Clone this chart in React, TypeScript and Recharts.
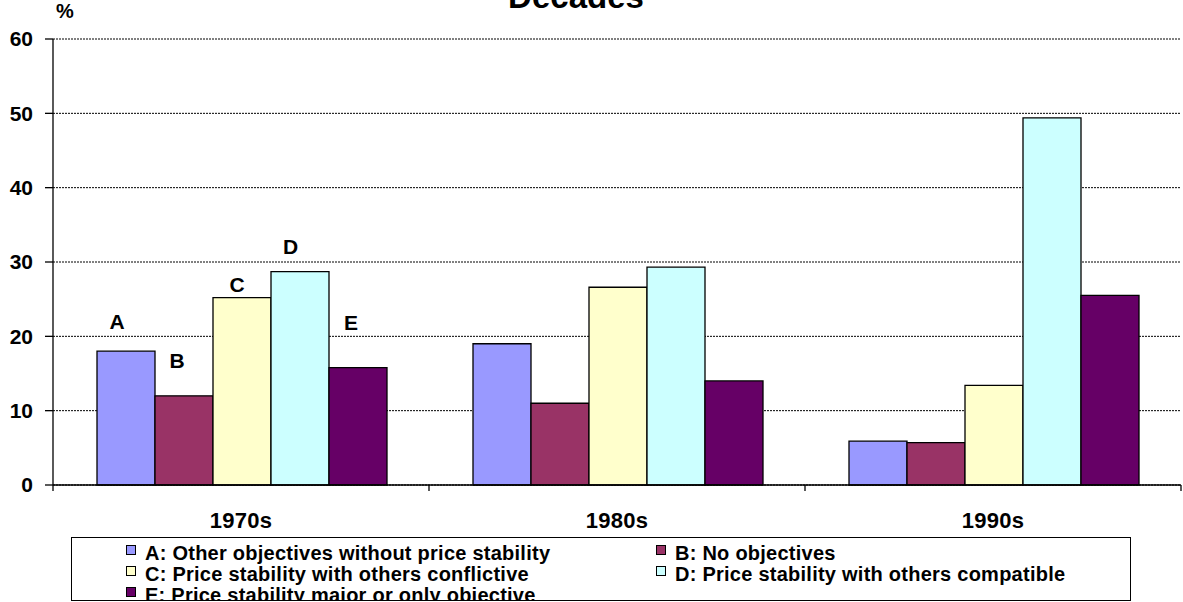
import React from 'react';
import { BarChart, Bar, XAxis, YAxis, CartesianGrid, Legend } from 'recharts';

const decades = ['1970s', '1980s', '1990s'];
const seriesA = [18.0, 19.0, 5.9];
const seriesB = [12.0, 11.0, 5.7];
const seriesC = [25.2, 26.6, 13.4];
const seriesD = [28.7, 29.3, 49.4];
const seriesE = [15.8, 14.0, 25.5];
const yTicks = [0, 10, 20, 30, 40, 50, 60];

const letters = ['A', 'B', 'C', 'D', 'E'];
const legendNames = [
  'A: Other objectives without price stability',
  'B: No objectives',
  'C: Price stability with others conflictive',
  'D: Price stability with others compatible',
  'E: Price stability major or only objective',
];

const chartData = decades.map((d, i) => ({
  decade: d,
  A: seriesA[i],
  B: seriesB[i],
  C: seriesC[i],
  D: seriesD[i],
  E: seriesE[i],
}));

const FONT = '"Liberation Sans", Arial, sans-serif';
const colors = ['#9999FF', '#993366', '#FFFFCC', '#CCFFFF', '#660066'];
// letter label nudges for the first cluster (dx, baseline above bar top)
const letterOffsets: [number, number][] = [
  [-9, 22],
  [-7, 28],
  [-5, 6],
  [-9.5, 18],
  [-7, 38],
];

const HALF_BAND = 188;

const DecadeTick = (props: any) => {
  const { x, y, payload, index } = props;
  return (
    <g>
      <line x1={x - HALF_BAND} x2={x - HALF_BAND} y1={y} y2={y + 6} stroke="#000" strokeWidth={1.3} />
      {index === decades.length - 1 && (
        <line x1={x + HALF_BAND} x2={x + HALF_BAND} y1={y} y2={y + 6} stroke="#000" strokeWidth={1.3} />
      )}
      <text
        x={x}
        y={y + 43}
        textAnchor="middle"
        fontFamily={FONT}
        fontWeight="bold"
        fontSize={22}
        letterSpacing={0.3}
        fill="#000"
      >
        {payload.value}
      </text>
    </g>
  );
};

const letterLabel = (i: number) => (p: any) => {
  if (p.index !== 0) return null;
  const [dx, dy] = letterOffsets[i];
  return (
    <text
      x={p.x + p.width / 2 + dx}
      y={p.y - dy}
      textAnchor="middle"
      fontFamily={FONT}
      fontWeight="bold"
      fontSize={21}
      fill="#000"
    >
      {letters[i]}
    </text>
  );
};

const LegendBox = () => (
  <div style={{ position: 'relative', width: '100%', height: '100%' }}>
    {legendNames.map((name, i) => {
      const row = Math.floor(i / 2);
      const col = i % 2;
      return (
        <div
          key={name}
          style={{
            position: 'absolute',
            left: col === 0 ? 54 : 584,
            top: 5 + row * 21,
            height: 21,
            lineHeight: '21px',
            whiteSpace: 'nowrap',
            fontFamily: FONT,
            fontWeight: 'bold',
            fontSize: 20,
            letterSpacing: 0.25,
            color: '#000',
          }}
        >
          <span
            style={{
              position: 'absolute',
              left: 0,
              top: 2,
              width: 8,
              height: 8,
              border: '1.3px solid #000',
              background: colors[i],
            }}
          />
          <span style={{ marginLeft: 19 }}>{name}</span>
        </div>
      );
    })}
  </div>
);

export default function App() {
  return (
    <div
      style={{
        position: 'absolute',
        left: 0,
        top: 0,
        width: 1183,
        height: 602,
        overflow: 'hidden',
        background: '#fff',
      }}
    >
      <BarChart
        width={1183}
        height={602}
        data={chartData}
        margin={{ top: 39, right: 2, left: 0, bottom: 0 }}
        barCategoryGap={44}
        barGap={0}
      >
        <CartesianGrid vertical={false} stroke="#000" strokeDasharray="2 1" strokeWidth={1} />
        <XAxis
          dataKey="decade"
          height={117}
          axisLine={{ stroke: '#000', strokeWidth: 1.3 }}
          tickLine={false}
          tickSize={0}
          tickMargin={0}
          interval={0}
          tick={<DecadeTick />}
        />
        <YAxis
          width={53}
          domain={[0, 60]}
          ticks={yTicks}
          interval={0}
          axisLine={{ stroke: '#000', strokeWidth: 1.3 }}
          tickLine={{ stroke: '#000', strokeWidth: 1.3 }}
          tickSize={8}
          tickMargin={12}
          tick={{ fill: '#000', fontFamily: FONT, fontWeight: 'bold', fontSize: 21 }}
        />
        <Legend
          layout="horizontal"
          verticalAlign="middle"
          align="center"
          content={<LegendBox />}
          wrapperStyle={{
            position: 'absolute',
            left: 71,
            top: 537,
            width: 1060,
            height: 64,
            border: '1.5px solid #000',
            boxSizing: 'border-box',
            background: '#fff',
            overflow: 'hidden',
          }}
        />
        {letters.map((l, i) => (
          <Bar
            key={l}
            dataKey={l}
            name={legendNames[i]}
            fill={colors[i]}
            stroke="#000"
            strokeWidth={1.3}
            isAnimationActive={false}
            label={letterLabel(i)}
          />
        ))}
      </BarChart>
      <div
        style={{
          position: 'absolute',
          left: 56,
          top: 1,
          lineHeight: '20px',
          fontFamily: FONT,
          fontWeight: 'bold',
          fontSize: 20,
        }}
      >
        %
      </div>
      <div
        style={{
          position: 'absolute',
          left: 376,
          width: 400,
          top: -20,
          textAlign: 'center',
          lineHeight: '33px',
          fontFamily: FONT,
          fontWeight: 'bold',
          fontSize: 33,
        }}
      >
        Decades
      </div>
    </div>
  );
}
